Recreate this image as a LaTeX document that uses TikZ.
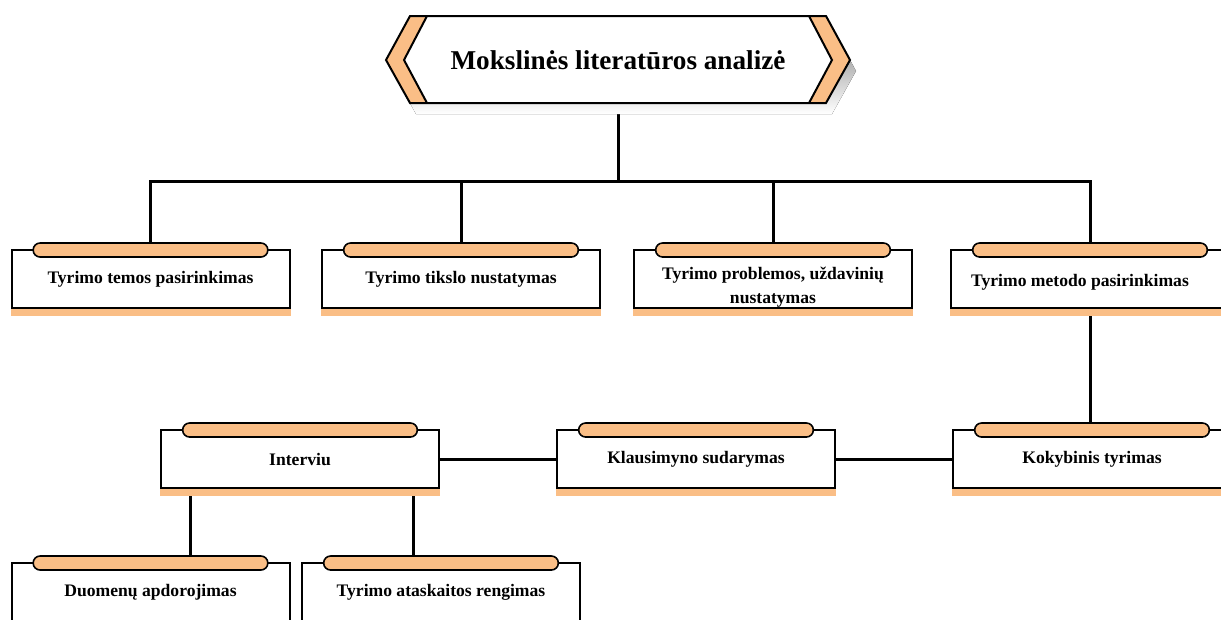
\documentclass[tikz,border=0pt]{standalone}
\usepackage{fontspec}
\setmainfont{Liberation Serif}
\usetikzlibrary{backgrounds}
\definecolor{peach}{RGB}{250,190,134}
\definecolor{shade}{RGB}{168,168,168}
\begin{document}
\begin{tikzpicture}[x=0.75pt,y=-0.75pt,
  stepbox/.style={draw=black, line width=1.5pt, fill=white,
    minimum width=208.5pt, minimum height=43.5pt, inner sep=2pt,
    align=center, font=\bfseries\fontsize{13.2}{18}\selectfont},
  conn/.style={line width=2.25pt},
  pill/.style={draw=black, fill=peach, line width=1.2pt, rounded corners=5.2pt},
  strip/.style={fill=peach},
  banner/.style={line width=1.5pt, line join=miter}]
\useasboundingbox (0,0) rectangle (1221,619);

% title banner: shadow, orange ends, white face
\fill[shade] (416,27) -- (832,27) -- (856,71) -- (832,114) -- (416,114) -- (392,71) -- cycle;
\fill[peach] (410,16) -- (826,16) -- (850,60) -- (826,103) -- (410,103) -- (386,60) -- cycle;
\fill[white] (427,16) -- (809,16) -- (832,60) -- (809,103) -- (427,103) -- (404,60) -- cycle;
\draw[banner] (427,16) -- (404,60) -- (427,103);
\draw[banner] (809,16) -- (832,60) -- (809,103);
\draw[banner] (410,16) -- (826,16) -- (850,60) -- (826,103) -- (410,103) -- (386,60) -- cycle;
\node[minimum width=312pt, minimum height=65.25pt, inner sep=0pt,
  font=\bfseries\fontsize{20.4}{24}\selectfont] (title) at (618,60) {Mokslinės literatūros analizė};

% first level
\node[stepbox] (t1) at (150.5,279) {Tyrimo temos pasirinkimas};
\node[stepbox] (t2) at (461,279) {Tyrimo tikslo nustatymas};
\node[stepbox, inner ysep=0pt] (t3) at (773,279) {\rule{0pt}{22pt}Tyrimo problemos, uždavinių\\nustatymas};
\node[stepbox] (t4) at (1090,279) {\rule{0pt}{14pt}Tyrimo metodo pasirinkimas\hspace*{15pt}};

% second level
\node[stepbox] (iv) at (300,459) {Interviu};
\node[stepbox] (kl) at (696,459) {Klausimyno sudarymas};
\node[stepbox] (kok) at (1092,459) {Kokybinis tyrimas};

% third level
\node[stepbox] (d1) at (150.5,592) {Duomenų apdorojimas};
\node[stepbox] (d2) at (441,592) {Tyrimo ataskaitos rengimas};

% connectors
\begin{scope}[on background layer]
  \coordinate (bus) at (618,181);
  \draw[conn] (title.south) -- (bus);
  \draw[conn] (t1.north) -- (t1.north |- bus) -- (t4.north |- bus) -- (t4.north);
  \draw[conn] (t2.north) -- (t2.north |- bus);
  \draw[conn] (t3.north) -- (t3.north |- bus);
  \draw[conn] (t4.south) -- (t4.south |- kok.north);
  \draw[conn] (iv.east) -- (kl.west);
  \draw[conn] (kl.east) -- (kok.west);
  \coordinate (ivl) at ([xshift=-82.5pt]iv.south);
  \coordinate (ivr) at ([xshift=84.75pt]iv.south);
  \draw[conn] (ivl) -- (ivl |- d1.north);
  \draw[conn] (ivr) -- (ivr |- d2.north);
\end{scope}

% orange under-strips and top bars of the boxes
\foreach \n in {t1,t2,t3,t4,iv,kl,kok,d1,d2} {
  \fill[strip] (\n.south west) rectangle ([yshift=-5.5pt]\n.south east);
  \draw[pill] ([xshift=17pt,yshift=4.5pt]\n.north west) rectangle ([xshift=-17pt,yshift=-6pt]\n.north east);
}
\end{tikzpicture}
\end{document}
